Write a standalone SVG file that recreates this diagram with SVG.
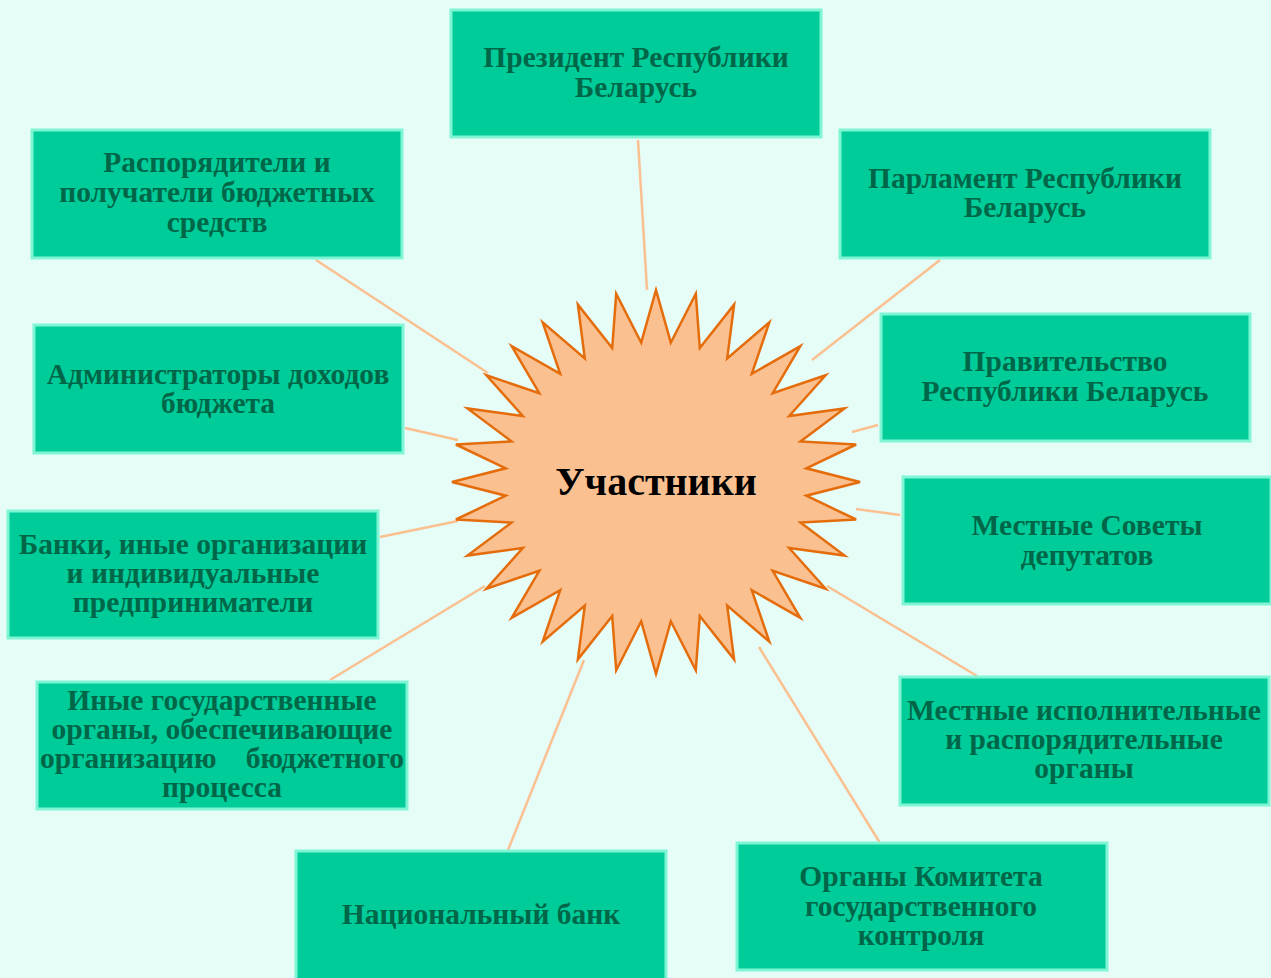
<svg xmlns="http://www.w3.org/2000/svg" width="1271" height="978" viewBox="0 0 1271 978">
<style>
.box rect{fill:#00CC99;stroke:#7FF5D6;stroke-width:3}
.box text{font-family:"Liberation Serif","Times New Roman",serif;font-weight:bold;font-size:29.5px;fill:#006648;text-anchor:middle}
.conn line{stroke:#FAC090;stroke-width:2.5}
</style>
<rect x="0" y="0" width="1271" height="978" fill="#E6FCF7"/>
<g class="conn" id="connectors">
<line x1="638" y1="140" x2="647" y2="290"/>
<line x1="316" y1="260" x2="488" y2="373"/>
<line x1="940" y1="260" x2="812" y2="360"/>
<line x1="405" y1="428" x2="458" y2="440"/>
<line x1="878" y1="425" x2="852" y2="432"/>
<line x1="380" y1="537" x2="458" y2="521"/>
<line x1="900" y1="515" x2="856" y2="509"/>
<line x1="330" y1="680" x2="485" y2="586"/>
<line x1="977" y1="676" x2="827" y2="586"/>
<line x1="508" y1="850" x2="584" y2="660"/>
<line x1="880" y1="843" x2="759" y2="647"/>
</g>
<g id="center">
<polygon fill="#FAC090" stroke="#E46C0A" stroke-width="2.5" stroke-linejoin="miter" points="656,290 670.8,342.7 695.8,293.7 699.8,348 734.1,304.6 727.2,358.5 769.3,322.4 751.8,373.8 800.3,346.2 772.7,393.2 825.6,375.3 789.2,416 844.5,408.5 800.5,441.4 856.1,444.5 806.3,468.3 860,482 806.3,495.7 856.1,519.5 800.5,522.6 844.5,555.5 789.2,548 825.6,588.7 772.7,570.8 800.3,617.8 751.8,590.2 769.3,641.6 727.2,605.5 734.1,659.4 699.8,616 695.8,670.3 670.8,621.3 656,674 641.2,621.3 616.2,670.3 612.2,616 577.9,659.4 584.8,605.5 542.7,641.6 560.2,590.2 511.7,617.8 539.3,570.8 486.4,588.7 522.8,548 467.5,555.5 511.5,522.6 455.9,519.5 505.7,495.7 452,482 505.7,468.3 455.9,444.5 511.5,441.4 467.5,408.5 522.8,416 486.4,375.3 539.3,393.2 511.7,346.2 560.2,373.8 542.7,322.4 584.8,358.5 577.9,304.6 612.2,348 616.2,293.7 641.2,342.7"/>
<text x="656" y="495" font-family="Liberation Serif, Times New Roman, serif" font-weight="bold" font-size="40" fill="#000" text-anchor="middle">Участники</text>
</g>
<g class="box" id="president">
<rect x="451" y="10" width="370" height="127"/>
<text x="636" y="67">Президент Республики</text>
<text x="636" y="97">Беларусь</text>
</g>
<g class="box" id="rasporyaditeli">
<rect x="32" y="130" width="370" height="128"/>
<text x="217" y="172">Распорядители и</text>
<text x="217" y="202">получатели бюджетных</text>
<text x="217" y="232">средств</text>
</g>
<g class="box" id="parlament">
<rect x="840" y="130" width="370" height="128"/>
<text x="1025" y="188">Парламент Республики</text>
<text x="1025" y="217">Беларусь</text>
</g>
<g class="box" id="administratory">
<rect x="34" y="325" width="369" height="128"/>
<text x="218" y="384">Администраторы доходов</text>
<text x="218" y="413">бюджета</text>
</g>
<g class="box" id="pravitelstvo">
<rect x="881" y="314" width="369" height="127"/>
<text x="1065" y="371">Правительство</text>
<text x="1065" y="401">Республики Беларусь</text>
</g>
<g class="box" id="banki">
<rect x="8" y="511" width="370" height="127"/>
<text x="193" y="554">Банки, иные организации</text>
<text x="193" y="583">и индивидуальные</text>
<text x="193" y="612">предприниматели</text>
</g>
<g class="box" id="sovety">
<rect x="903" y="477" width="368" height="127"/>
<text x="1087" y="535">Местные Советы</text>
<text x="1087" y="565">депутатов</text>
</g>
<g class="box" id="inye">
<rect x="37" y="682" width="370" height="127"/>
<text x="222" y="710">Иные государственные</text>
<text x="222" y="739">органы, обеспечивающие</text>
<text x="40" y="768" style="text-anchor:start">организацию</text>
<text x="404" y="768" style="text-anchor:end">бюджетного</text>
<text x="222" y="797">процесса</text>
</g>
<g class="box" id="ispolnitelnye">
<rect x="900" y="677" width="369" height="128"/>
<text x="1084" y="720">Местные исполнительные</text>
<text x="1084" y="749">и распорядительные</text>
<text x="1084" y="778">органы</text>
</g>
<g class="box" id="natsbank">
<rect x="296" y="851" width="370" height="130"/>
<text x="481" y="924">Национальный банк</text>
</g>
<g class="box" id="kgk">
<rect x="737" y="843" width="370" height="127"/>
<text x="921" y="886">Органы Комитета</text>
<text x="921" y="916">государственного</text>
<text x="921" y="945">контроля</text>
</g>
</svg>
